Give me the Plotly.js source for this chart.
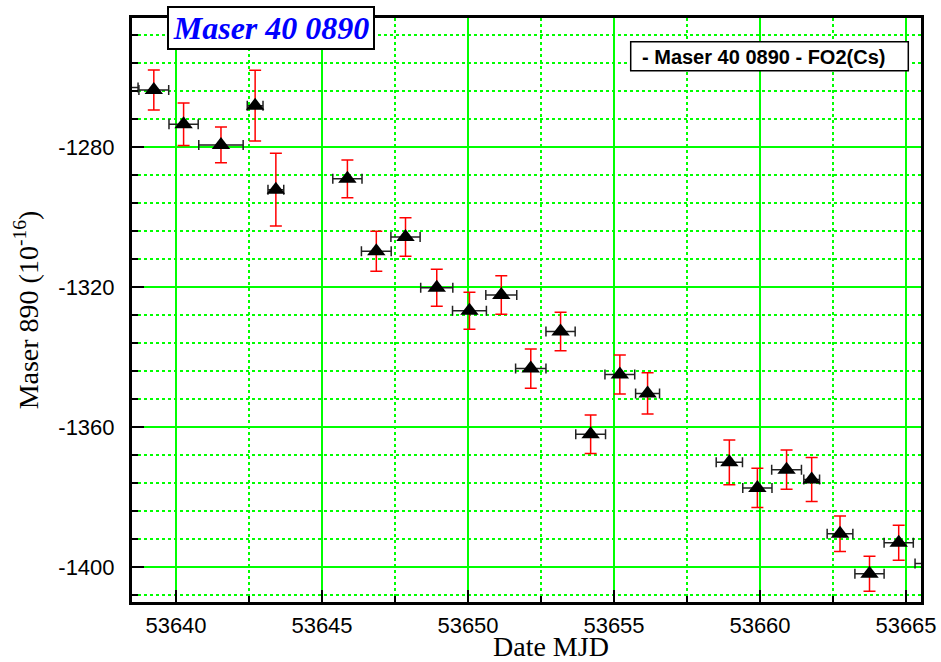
<!DOCTYPE html>
<html>
<head>
<meta charset="utf-8">
<script src="https://cdn.plot.ly/plotly-3.0.1.min.js"></script>
<style>html,body{margin:0;padding:0;background:#fff;}#chart{width:941px;height:662px;}</style>
</head>
<body>
<div id="chart"></div>
<script>
// Data (Date MJD vs Maser 890, units 1e-16)
const mjd = [53638.2, 53639.24, 53640.26, 53641.54, 53642.71, 53643.42, 53645.87, 53646.86, 53647.86, 53648.93,
             53650.05, 53651.14, 53652.15, 53653.17, 53654.20, 53655.20, 53656.15, 53658.95, 53659.91, 53660.91,
             53661.77, 53662.74, 53663.75, 53664.75, 53665.81];
const maser = [-1263.0, -1263.7, -1273.5, -1279.4, -1268.2, -1292.2, -1289.1, -1309.8, -1305.7, -1320.2,
               -1326.8, -1322.3, -1343.3, -1332.7, -1362.1, -1345.0, -1350.4, -1370.1, -1377.4, -1372.2,
               -1375.0, -1390.5, -1401.9, -1393.1, -1399.0];
const maserErr = [8.5, 5.7, 6.1, 5.1, 10.1, 10.4, 5.4, 5.7, 5.5, 5.3,
                  5.3, 5.5, 5.6, 5.5, 5.5, 5.6, 5.9, 6.4, 5.6, 5.6,
                  6.3, 5.1, 5.0, 5.0, 5.0];
const mjdErr = [0.5, 0.51, 0.5, 0.76, 0.27, 0.27, 0.5, 0.51, 0.5, 0.55,
                0.58, 0.53, 0.52, 0.5, 0.51, 0.51, 0.41, 0.45, 0.5, 0.51,
                0.27, 0.44, 0.5, 0.5, 0.5];
const xTickVals = [53640, 53645, 53650, 53655, 53660, 53665];
const xTickText = ['53640', '53645', '53650', '53655', '53660', '53665'];
const yTickVals = [-1400, -1360, -1320, -1280];
const yTickText = ['-1400', '-1360', '-1320', '-1280'];
const seriesName = '- Maser 40 0890 - FO2(Cs)';
const chartTitle = 'Maser 40 0890';
const xTitle = 'Date MJD';
const yTitle = 'Maser 890 (10<sup>-16</sup>)';

const trace = {
  type: 'scatter', mode: 'markers', name: seriesName,
  x: mjd, y: maser,
  marker: {symbol: 'triangle-up', size: 16, color: 'black'},
  error_y: {type: 'data', array: maserErr, visible: true, color: '#ff0000', thickness: 1.5, width: 6},
  error_x: {type: 'data', array: mjdErr, visible: true, color: '#222222', thickness: 1.5, width: 5},
  cliponaxis: true
};

const tickFont = {family: 'Liberation Sans, Arial, sans-serif', size: 22, color: 'black'};
const gridGreen = 'rgb(0,255,0)';
const L = 132, R = 921, T = 18, B = 602;
const px = v => (v - L) / (R - L);
const py = v => (B - v) / (B - T);

const layout = {
  width: 941, height: 662,
  margin: {l: 132, r: 20, t: 18, b: 60},
  paper_bgcolor: 'white', plot_bgcolor: 'white',
  showlegend: false,
  xaxis: {
    range: [53638.4932, 53665.5137], tickmode: 'array', tickvals: xTickVals, ticktext: xTickText,
    ticks: 'inside', ticklen: 12, tickwidth: 2.5, tickcolor: 'black',
    showline: true, linewidth: 3, linecolor: 'black', mirror: true,
    showgrid: true, gridcolor: gridGreen, gridwidth: 1.5, zeroline: false,
    tickfont: tickFont, ticklabelstandoff: 2,
    minor: {tick0: 53640, dtick: 2.5, ticks: 'inside', ticklen: 6, tickwidth: 2.5, tickcolor: 'black',
            showgrid: true, gridcolor: gridGreen, gridwidth: 1.5, griddash: 'dot'}
  },
  yaxis: {
    range: [-1410, -1243.14], tickmode: 'array', tickvals: yTickVals, ticktext: yTickText,
    ticks: 'inside', ticklen: 12, tickwidth: 2.5, tickcolor: 'black',
    showline: true, linewidth: 3, linecolor: 'black', mirror: true,
    showgrid: true, gridcolor: gridGreen, gridwidth: 1.5, zeroline: false,
    tickfont: tickFont, ticklabelstandoff: 10,
    title: {text: yTitle, font: {family: 'Liberation Serif, Times New Roman, serif', size: 28, color: 'black'}, standoff: 12},
    minor: {tick0: -1400, dtick: 8, ticks: 'inside', ticklen: 6, tickwidth: 2.5, tickcolor: 'black',
            showgrid: true, gridcolor: gridGreen, gridwidth: 1.5, griddash: 'dot'}
  },
  shapes: [
    {type: 'rect', xref: 'paper', yref: 'paper', layer: 'above',
     x0: px(630.7), x1: px(908.3), y0: py(70.7), y1: py(41.7),
     fillcolor: 'white', line: {color: 'black', width: 1.5}}
  ],
  annotations: [
    {xref: 'paper', yref: 'paper', x: px(270.8), y: py(28), xanchor: 'center', yanchor: 'middle',
     text: '<b><i>' + chartTitle + '</i></b>', showarrow: false,
     font: {family: 'Liberation Serif, Times New Roman, serif', size: 32, color: '#0000ff'},
     bgcolor: 'white', bordercolor: 'black', borderwidth: 2, borderpad: 1, width: 202, height: 38},
    {xref: 'paper', yref: 'paper', x: px(639.5), y: py(56.5), xanchor: 'left', yanchor: 'middle',
     text: '<b>' + seriesName + '</b>', showarrow: false, align: 'left',
     font: {family: 'Liberation Sans, Arial, sans-serif', size: 20, color: 'black'}},
    {xref: 'paper', yref: 'paper', x: px(551), y: py(646), xanchor: 'center', yanchor: 'middle',
     text: xTitle, showarrow: false,
     font: {family: 'Liberation Serif, Times New Roman, serif', size: 28, color: 'black'}}
  ]
};

Plotly.newPlot('chart', [trace], layout, {displayModeBar: false, staticPlot: true});
</script>
</body>
</html>
